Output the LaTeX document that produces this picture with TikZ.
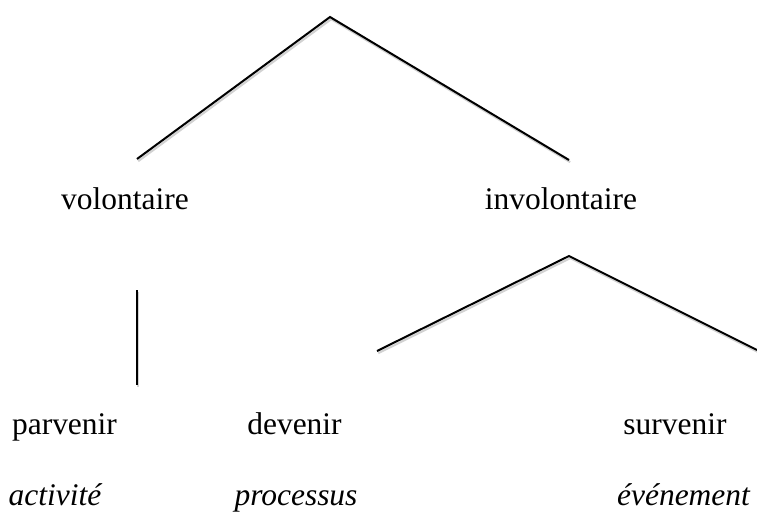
\documentclass[tikz,border=0pt]{standalone}
\usepackage{fontspec}
\setmainfont{Liberation Serif}
\tikzset{
  branch/.style={line width=1.5pt, preaction={draw, gray!35, line width=1.6pt, transform canvas={xshift=0.9pt, yshift=-1.6pt}}},
  word/.style={anchor=base, inner sep=0pt, font=\fontsize{23.6}{28}\selectfont},
}
\begin{document}
\begin{tikzpicture}[x=0.75pt,y=-0.75pt]
    \useasboundingbox (0,0) rectangle (757,512);
    % first level
    \node[word] (volontaire) at (125,209) {volontaire};
    \node[word] (involontaire) at (561,209) {involontaire};
    \coordinate (top) at (330,17);
    \coordinate (volend) at (137,159);
    \coordinate (involend) at (569,160);
    \draw[branch] (volend) -- (top) -- (involend);
    % second level
    \node[word] (parvenir) at (64.5,434) {parvenir};
    \node[word] (devenir) at (294.5,434) {devenir};
    \node[word] (survenir) at (675,434) {survenir};
    \coordinate (voltop) at (137,290);
    \coordinate (parend) at (137,385);
    \draw[branch] (voltop) -- (parend);
    \coordinate (invtop) at (569,256);
    \coordinate (devend) at (377,351);
    \coordinate (surend) at (757,350);
    \draw[branch] (devend) -- (invtop) -- (surend);
    % aspect labels
    \node[word, font=\fontsize{23.6}{28}\selectfont\itshape] (activite) at (55,505) {activité};
    \node[word, font=\fontsize{23.6}{28}\selectfont\itshape] (processus) at (296,505) {processus};
    \node[word, font=\fontsize{23.6}{28}\selectfont\itshape] (evenement) at (683.5,505) {événement};
\end{tikzpicture}
\end{document}
